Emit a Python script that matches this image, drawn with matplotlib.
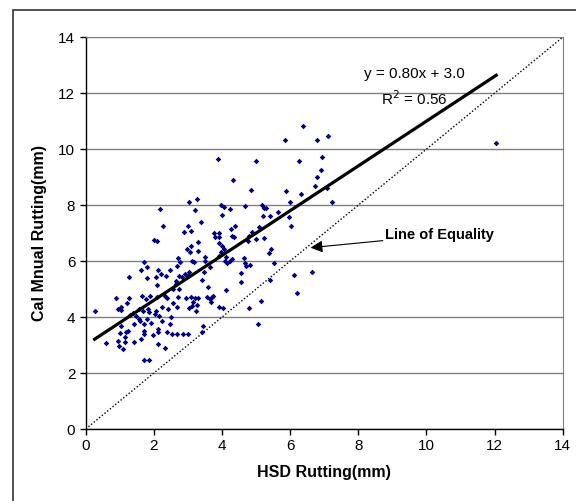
import numpy as np
import matplotlib
matplotlib.use("Agg")
import matplotlib.pyplot as plt
from matplotlib.patches import Rectangle

plt.rcParams['font.family'] = ['Liberation Sans', 'DejaVu Sans']

# HSD rutting (x) vs Cal manual rutting (y), mm
hsd = [0.26, 0.61, 0.89, 0.95, 1.03, 1.05, 1.00, 0.95, 0.97, 1.10, 1.16, 1.14, 1.18, 1.25,
       1.22, 1.27, 1.26, 1.29, 1.38, 1.41, 1.43, 1.49, 1.57, 1.61, 1.61, 1.65, 1.68, 1.70,
       1.57, 1.59, 1.70, 1.70, 1.72, 1.72, 1.86, 1.76, 1.79, 1.81, 1.81, 1.84, 1.86, 1.89,
       1.92, 1.97, 2.00, 2.02, 2.05, 2.08, 2.07, 2.08, 2.09, 2.11, 2.11, 2.13, 2.13, 2.15,
       2.18, 2.22, 2.24, 2.24, 2.26, 2.32, 2.34, 2.37, 2.40, 2.40, 2.43, 2.47, 2.47, 2.51,
       2.53, 2.56, 2.56, 2.65, 2.65, 2.67, 2.69, 2.69, 2.70, 2.71, 2.73, 2.75, 2.78, 2.83,
       2.86, 2.88, 2.92, 2.94, 2.97, 2.99, 3.00, 3.01, 3.02, 3.02, 3.03, 3.07, 3.08, 3.10,
       3.10, 3.12, 3.13, 3.16, 3.19, 3.20, 3.21, 3.25, 3.26, 3.27, 3.29, 3.29, 3.31, 3.39,
       3.42, 3.44, 3.46, 3.49, 3.51, 3.55, 3.59, 3.64, 3.66, 3.69, 3.72, 3.74, 3.77, 3.80,
       3.88, 3.90, 3.91, 3.92, 3.91, 3.92, 3.96, 3.98, 4.00, 4.01, 4.02, 4.05, 4.07, 4.09,
       4.11, 4.13, 4.24, 4.25, 4.27, 4.28, 4.30, 4.33, 4.35, 4.37, 4.55, 4.57, 4.66, 4.68,
       4.69, 4.70, 4.76, 4.78, 4.80, 4.81, 4.84, 4.89, 5.00, 5.00, 5.05, 5.09, 5.14, 5.17,
       5.19, 5.22, 5.23, 5.29, 5.38, 5.40, 5.41, 5.45, 5.53, 5.63, 5.84, 5.88, 5.98, 6.00,
       6.04, 6.11, 6.20, 6.27, 6.33, 6.38, 6.65, 6.73, 6.78, 6.79, 6.90, 6.95, 7.10, 7.08,
       7.22, 12.05, 1.03, 3.40, 4.15]
cal = [4.21, 3.06, 4.68, 4.29, 4.37, 4.25, 3.43, 3.16, 2.98, 2.86, 3.10, 3.28, 3.46, 3.51,
       4.49, 4.67, 5.42, 4.09, 4.13, 3.10, 3.75, 4.05, 4.29, 3.22, 5.68, 4.77, 4.23, 5.96,
       3.93, 3.87, 3.75, 3.51, 3.40, 2.47, 2.47, 4.65, 5.39, 5.78, 3.93, 4.29, 4.17, 4.77,
       3.78, 3.37, 6.76, 4.11, 4.23, 6.73, 5.42, 5.16, 4.73, 5.68, 3.57, 3.46, 3.04, 4.05,
       7.86, 5.54, 3.87, 4.35, 7.24, 4.74, 2.90, 5.48, 4.67, 3.46, 4.29, 5.68, 3.75, 4.02,
       3.40, 4.49, 5.00, 5.18, 5.30, 5.84, 3.40, 4.37, 4.73, 6.10, 5.48, 5.00, 5.98, 5.42,
       3.40, 7.05, 5.54, 4.67, 6.43, 5.46, 7.24, 3.40, 8.10, 4.33, 5.60, 6.31, 7.09, 6.55,
       4.71, 4.41, 6.02, 4.53, 5.96, 7.83, 4.69, 4.21, 8.23, 4.44, 6.37, 6.67, 4.67, 7.41,
       5.33, 3.69, 5.62, 6.14, 6.02, 4.71, 5.09, 5.78, 4.65, 4.55, 4.73, 4.77, 7.01, 6.85,
       9.65, 7.00, 6.85, 6.64, 6.18, 4.35, 8.02, 6.31, 7.66, 6.53, 4.33, 6.43, 7.95, 5.99,
       6.14, 4.97, 5.99, 7.86, 7.15, 6.08, 6.91, 8.91, 6.85, 7.27, 5.27, 5.56, 6.10, 5.93,
       7.98, 5.84, 6.73, 6.91, 4.33, 5.86, 8.54, 7.03, 9.57, 6.79, 3.75, 7.23, 4.59, 8.02,
       7.60, 6.82, 7.90, 7.89, 6.28, 5.33, 7.60, 6.43, 5.92, 7.77, 10.31, 8.52, 7.57, 8.10,
       7.24, 5.52, 4.86, 9.57, 8.40, 10.81, 5.60, 8.70, 10.31, 9.00, 9.26, 9.73, 10.48, 8.60,
       8.10, 10.22, 3.69, 3.47, 5.93]

slope, intercept = 0.80, 3.0

x = np.array(hsd)
y = np.array(cal)

fig = plt.figure(figsize=(5.76, 5.01), dpi=100)
ax = fig.add_axes([0.1488, 0.1437, 0.828, 0.782])

ax.grid(axis='y', color='#808080', lw=1.0, zorder=0)
ax.scatter(x, y, marker='D', s=8, color='#000080', lw=0, zorder=3)

xf = np.array([x.min(), x.max()])
ax.plot(xf, slope * xf + intercept, color='black', lw=2.3, zorder=4)
ax.plot([0, 14], [0, 14], color='black', lw=1.0, ls=(0, (1, 1.5)), zorder=2)

ax.text(9.66, 12.67, 'y = 0.80x + 3.0', ha='center', va='center', fontsize=11)
ax.text(9.66, 11.82, 'R$^2$ = 0.56', ha='center', va='center', fontsize=11)

ax.annotate('Line of Equality', xy=(6.6, 6.48), xytext=(8.8, 6.93),
            fontsize=10.5, fontweight='bold', ha='left', va='center',
            arrowprops=dict(arrowstyle='-|>', color='black', lw=0.8,
                            mutation_scale=18, shrinkA=0, shrinkB=0))

ax.set_xlim(0, 14)
ax.set_ylim(0, 14)
ax.set_xticks(range(0, 15, 2))
ax.set_yticks(range(0, 15, 2))
ax.tick_params(direction='out', length=4, labelsize=11, width=1)
ax.spines['top'].set_color('#808080')
ax.spines['right'].set_color('#808080')
ax.spines['left'].set_linewidth(1.0)
ax.spines['bottom'].set_linewidth(1.0)

ax.set_xlabel('HSD Rutting(mm)', fontsize=11.5, fontweight='bold', labelpad=8)
ax.set_ylabel('Cal Mnual Rutting(mm)', fontsize=11.5, fontweight='bold', labelpad=8)

fig.patches.append(Rectangle((0.022, -0.02), 1.0, 1.0, transform=fig.transFigure,
                             fill=False, edgecolor='#333333', lw=1.2))

fig.savefig('out.png', dpi=100)
